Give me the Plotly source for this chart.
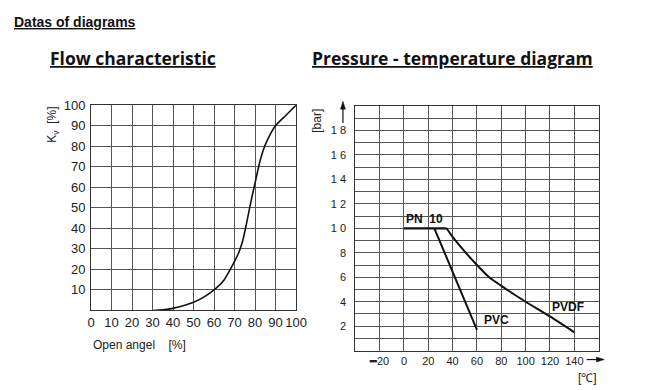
import plotly.graph_objects as go

# ---- data ----
flow_open = [30, 35, 40, 45, 50, 55, 60, 65, 69, 72, 74, 76, 78, 80, 82, 84, 86, 90, 95, 100]
flow_kv = [0, 0.3, 1, 2.3, 4, 6.5, 10, 15, 22, 28, 34, 43, 53, 62, 71, 78, 83, 90, 95, 100]
flow_xticks = [0, 10, 20, 30, 40, 50, 60, 70, 80, 90, 100]
flow_yticks = [10, 20, 30, 40, 50, 60, 70, 80, 90, 100]

pn10_temp = [0, 35]
pn10_bar = [10, 10]
pvc_temp = [25, 60]
pvc_bar = [10, 1.7]
pvdf_temp = [35, 40, 50, 60, 70, 80, 100, 120, 140]
pvdf_bar = [10, 9.3, 8.1, 7, 6, 5.3, 4, 2.8, 1.5]

pt_xticks = [-20, 0, 20, 40, 60, 80, 100, 120, 140]
pt_xticktext = ["<b>━</b>20", "0", "20", "40", "60", "80", "100", "120", "140"]
pt_yticks = [2, 4, 6, 8, 10, 12, 14, 16, 18]
pt_yticktext = ["2", "4", "6", "8", "1 0", "1 2", "1 4", "1 6", "1 8"]
pt_yminor = [1, 3, 5, 7, 9, 11, 13, 15, 17, 19]

W, H = 670, 390
def px(x):
    return x / W
def py(y):
    return 1 - y / H

fig = go.Figure()
fig.add_trace(go.Scatter(x=flow_open, y=flow_kv, mode="lines", line=dict(color="#111", width=1.6, shape="spline", smoothing=0.6),
                         xaxis="x", yaxis="y", showlegend=False))
fig.add_trace(go.Scatter(x=pn10_temp, y=pn10_bar, mode="lines", line=dict(color="#111", width=2.2),
                         xaxis="x2", yaxis="y2", showlegend=False))
fig.add_trace(go.Scatter(x=pvc_temp, y=pvc_bar, mode="lines", line=dict(color="#111", width=2),
                         xaxis="x2", yaxis="y2", showlegend=False))
fig.add_trace(go.Scatter(x=pvdf_temp, y=pvdf_bar, mode="lines", line=dict(color="#111", width=2, shape="spline", smoothing=0.5),
                         xaxis="x2", yaxis="y2", showlegend=False))

tickfont = dict(family="Liberation Sans, Arial", size=13, color="#222")
tickfont2 = dict(family="Liberation Sans, Arial", size=11, color="#222")
gridc = "#555"

fig.update_layout(
    width=W, height=H, margin=dict(l=0, r=0, t=0, b=0),
    paper_bgcolor="white", plot_bgcolor="white",
    xaxis=dict(domain=[px(89), px(298.7)], range=[0, 100], tickvals=flow_xticks, showgrid=True, gridcolor=gridc,
               gridwidth=1, showline=True, linecolor="#333", linewidth=1, mirror=True, zeroline=False,
               ticks="", tickfont=tickfont, anchor="y"),
    yaxis=dict(domain=[py(309), py(100)], range=[0, 100], tickvals=flow_yticks, showgrid=True, gridcolor=gridc,
               gridwidth=1, showline=True, linecolor="#333", linewidth=1, mirror=True, zeroline=False,
               ticks="", tickfont=tickfont, anchor="x", ticklabelstandoff=2),
    xaxis2=dict(domain=[px(359.3), px(608.3)], range=[-40, 160], tickvals=pt_xticks, ticktext=pt_xticktext,
                showgrid=True, gridcolor=gridc, gridwidth=1, showline=True, linecolor="#333", linewidth=1,
                mirror=True, zeroline=False, ticks="", tickfont=tickfont2, anchor="y2"),
    yaxis2=dict(domain=[py(350), py(100.7)], range=[0, 20], tickvals=pt_yticks, ticktext=pt_yticktext,
                showgrid=True, gridcolor=gridc, gridwidth=1, showline=True, linecolor="#333", linewidth=1,
                mirror=True, zeroline=False, ticks="", tickfont=tickfont2, anchor="x2", ticklabelstandoff=6,
                minor=dict(tickvals=pt_yminor, showgrid=True, gridcolor=gridc, gridwidth=1, ticks="")),
)

ann = []
ann.append(dict(text="<b>Datas of diagrams</b>", xref="paper", yref="paper", x=px(8), y=py(15),
                xanchor="left", yanchor="middle", showarrow=False,
                font=dict(family="Liberation Sans, Arial", size=14, color="#111", lineposition="under")))
head_font = dict(family="Open Sans", size=17.5, color="#111", weight="bold", lineposition="under")
ann.append(dict(text="Flow characteristic", xref="paper", yref="paper", x=px(45), y=py(52),
                xanchor="left", yanchor="middle", showarrow=False, font=head_font))
ann.append(dict(text="Pressure - temperature diagram", xref="paper", yref="paper", x=px(313), y=py(52),
                xanchor="left", yanchor="middle", showarrow=False, font=head_font))
ann.append(dict(text="K<sub>v̇</sub>  [%]", xref="paper", yref="paper", x=px(50), y=py(120),
                xanchor="center", yanchor="middle", textangle=-90, showarrow=False,
                font=dict(family="Liberation Sans, Arial", size=12, color="#222")))
ann.append(dict(text="Open angel    [%]", xref="paper", yref="paper", x=px(89), y=py(344),
                xanchor="left", yanchor="middle", showarrow=False,
                font=dict(family="Liberation Sans, Arial", size=12, color="#222")))
ann.append(dict(text="[bar]", xref="paper", yref="paper", x=px(320), y=py(116),
                xanchor="center", yanchor="middle", textangle=-90, showarrow=False,
                font=dict(family="Liberation Sans, Arial", size=12, color="#222")))
ann.append(dict(text="[℃]", xref="paper", yref="paper", x=px(597), y=py(378),
                xanchor="center", yanchor="middle", showarrow=False,
                font=dict(family="Liberation Sans, Arial", size=12, color="#222")))
lab_font = dict(family="Liberation Sans, Arial", size=12, color="#111", weight="bold")
ann.append(dict(text="PN  10", xref="x2", yref="y2", x=16.5, y=10.75, showarrow=False, font=lab_font))
ann.append(dict(text="PVC", xref="x2", yref="y2", x=76, y=2.5, showarrow=False, font=lab_font))
ann.append(dict(text="PVDF", xref="x2", yref="y2", x=135, y=3.55, showarrow=False, font=lab_font))
fig.update_layout(annotations=ann)

# axis arrows (decoration)
shapes = [
    dict(type="line", xref="paper", yref="paper", x0=px(346.7), x1=px(346.7), y0=py(118), y1=py(100),
         line=dict(color="#111", width=1.2)),
    dict(type="path", xref="paper", yref="paper",
         path=f"M {px(344.2)} {py(104)} L {px(346.7)} {py(96)} L {px(349.2)} {py(104)} Z",
         fillcolor="#111", line=dict(color="#111", width=0.5)),
    dict(type="line", xref="paper", yref="paper", x0=px(596), x1=px(608), y0=py(359), y1=py(359),
         line=dict(color="#111", width=1.2)),
    dict(type="path", xref="paper", yref="paper",
         path=f"M {px(606)} {py(356.5)} L {px(614)} {py(359)} L {px(606)} {py(361.5)} Z",
         fillcolor="#111", line=dict(color="#111", width=0.5)),
]
fig.update_layout(shapes=shapes)

fig.write_html("out.html", config={"displayModeBar": False},
               post_script="document.body.style.margin='0';document.body.style.overflow='hidden';")
